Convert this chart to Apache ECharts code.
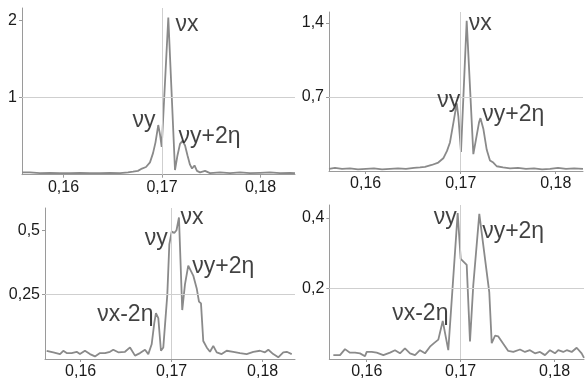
<!DOCTYPE html>
<html><head><meta charset="utf-8">
<script src="https://cdn.jsdelivr.net/npm/echarts@6/dist/echarts.min.js"></script>
<style>html,body{margin:0;padding:0;background:#fff}#c{width:587px;height:380px}</style>
</head><body><div id="c"></div>
<script>
// Panel 1 (top-left)
const p1x=[0.15579,0.15660,0.15761,0.15863,0.15964,0.16066,0.16168,0.16269,0.16371,0.16472,0.16574,0.16655,0.16706,0.16756,0.16797,0.16838,0.16878,0.16909,0.16934,0.16962,0.16980,0.16997,0.17064,0.17132,0.17157,0.17183,0.17208,0.17234,0.17259,0.17284,0.17305,0.17330,0.17355,0.17386,0.17437,0.17487,0.17589,0.17690,0.17792,0.17893,0.17995,0.18096,0.18198,0.18299,0.18350];
const p1y=[0.03,0.03,0.02,0.025,0.02,0.02,0.025,0.02,0.02,0.025,0.02,0.03,0.04,0.05,0.08,0.10,0.16,0.28,0.42,0.645,0.52,0.36,2.04,0.06,0.25,0.40,0.44,0.38,0.25,0.13,0.08,0.12,0.05,0.03,0.05,0.02,0.03,0.02,0.03,0.02,0.025,0.03,0.02,0.025,0.02];
// Panel 2 (top-right)
const p2x=[0.15614,0.15677,0.15751,0.15835,0.15919,0.16003,0.16087,0.16172,0.16256,0.16340,0.16424,0.16508,0.16572,0.16624,0.16695,0.16764,0.16817,0.16856,0.16887,0.16922,0.16958,0.16975,0.17003,0.17063,0.17133,0.17161,0.17193,0.17208,0.17238,0.17274,0.17308,0.17343,0.17379,0.17445,0.17519,0.17603,0.17687,0.17772,0.17856,0.17940,0.18024,0.18108,0.18193,0.18287];
const p2y=[0.02,0.03,0.02,0.025,0.015,0.02,0.025,0.015,0.02,0.025,0.02,0.03,0.035,0.04,0.057,0.08,0.12,0.19,0.27,0.45,0.64,0.52,0.18,1.42,0.16,0.30,0.46,0.50,0.40,0.20,0.10,0.08,0.045,0.035,0.025,0.03,0.02,0.025,0.015,0.02,0.03,0.02,0.025,0.02];
// Panel 3 (bottom-left)
const p3x=[0.15626,0.15699,0.15773,0.15809,0.15846,0.15901,0.15956,0.15992,0.16047,0.16102,0.16157,0.16212,0.16267,0.16322,0.16358,0.16413,0.16487,0.16542,0.16597,0.16652,0.16707,0.16743,0.16780,0.16809,0.16827,0.16853,0.16882,0.16908,0.16952,0.16974,0.17000,0.17029,0.17053,0.17080,0.17116,0.17146,0.17182,0.17237,0.17275,0.17300,0.17322,0.17347,0.17385,0.17421,0.17457,0.17495,0.17549,0.17604,0.17677,0.17751,0.17824,0.17897,0.17970,0.18025,0.18062,0.18116,0.18171,0.18226,0.18264,0.18319];
const p3y=[0.032,0.026,0.019,0.032,0.023,0.023,0.028,0.019,0.032,0.019,0.010,0.023,0.023,0.028,0.036,0.026,0.028,0.045,0.013,0.023,0.036,0.019,0.057,0.14,0.178,0.159,0.032,0.045,0.25,0.445,0.495,0.49,0.50,0.55,0.19,0.29,0.363,0.324,0.274,0.223,0.216,0.07,0.045,0.028,0.051,0.026,0.019,0.032,0.028,0.023,0.019,0.028,0.032,0.026,0.036,0.019,0.0065,0.026,0.028,0.019];
// Panel 4 (bottom-right)
const p4x=[0.15645,0.15716,0.15769,0.15822,0.15876,0.15929,0.15982,0.16000,0.16053,0.16106,0.16177,0.16248,0.16301,0.16354,0.16407,0.16461,0.16514,0.16567,0.16620,0.16673,0.16716,0.16762,0.16809,0.16868,0.16968,0.17000,0.17064,0.17099,0.17134,0.17198,0.17304,0.17330,0.17365,0.17400,0.17453,0.17506,0.17560,0.17631,0.17684,0.17737,0.17790,0.17844,0.17897,0.17950,0.18003,0.18038,0.18091,0.18128,0.18181,0.18234,0.18287,0.18312];
const p4y=[0.011,0.011,0.028,0.018,0.018,0.016,0.008,0.02,0.02,0.018,0.011,0.018,0.025,0.016,0.03,0.016,0.011,0.025,0.016,0.035,0.045,0.055,0.108,0.025,0.414,0.284,0.267,0.05,0.21,0.412,0.19,0.045,0.066,0.064,0.043,0.023,0.02,0.027,0.02,0.025,0.016,0.02,0.011,0.025,0.016,0.025,0.02,0.025,0.02,0.032,0.016,0.003];

const xTicks=[0.16,0.17,0.18];
const yTicks1=[1,2], yTicks2=[0.7,1.4], yTicks3=[0.25,0.5], yTicks4=[0.2,0.4];
const vLine=0.17;

// annotation labels: [text, x, y] in data units
const ann1=[['νx',0.17132,1.95],['νy',0.16695,0.697],['νy+2η',0.17162,0.49]];
const ann2=[['νx',0.1708,1.39],['νy',0.16747,0.662],['νy+2η',0.17221,0.53]];
const ann3=[['νx',0.17091,0.55],['νy',0.16699,0.468],['νy+2η',0.1722,0.36],['νx-2η',0.16176,0.174]];
const ann4=[['νy',0.16709,0.402],['νy+2η',0.17223,0.36],['νx-2η',0.16266,0.129]];

const panels=[
  {xs:p1x,ys:p1y,yt:yTicks1,ann:ann1,grid:{left:22,top:8,width:273,height:166.7},xr:[0.15579,0.1835],yr:[0,2.165]},
  {xs:p2x,ys:p2y,yt:yTicks2,ann:ann2,grid:{left:329,top:12,width:254,height:159},xr:[0.15614,0.18287],yr:[0,1.504]},
  {xs:p3x,ys:p3y,yt:yTicks3,ann:ann3,grid:{left:45,top:208,width:250,height:153.7},xr:[0.15608,0.18355],yr:[0,0.5866]},
  {xs:p4x,ys:p4y,yt:yTicks4,ann:ann4,grid:{left:329.3,top:205,width:254.7,height:157.3},xr:[0.15602,0.18312],yr:[0,0.437]}
];
const fmt=v=>String(+(+v).toFixed(3)).replace('.',',');
const FONT='Liberation Sans';
const axisCommon={
  axisLine:{show:true,onZero:false,lineStyle:{color:'#9a9a9a',width:1}},
  splitLine:{show:false}
};
const option={animation:false,backgroundColor:'#fff',grid:[],xAxis:[],yAxis:[],series:[]};
panels.forEach((p,i)=>{
  option.grid.push(p.grid);
  option.xAxis.push(Object.assign({type:'value',gridIndex:i,min:p.xr[0],max:p.xr[1],
    axisTick:{show:true,length:3,customValues:xTicks,lineStyle:{color:'#9a9a9a'}},
    axisLabel:{customValues:xTicks,formatter:fmt,fontSize:16,color:'#1a1a1a',fontFamily:FONT,margin:5}},axisCommon));
  option.yAxis.push(Object.assign({type:'value',gridIndex:i,min:p.yr[0],max:p.yr[1],
    axisTick:{show:true,length:3,customValues:p.yt,lineStyle:{color:'#9a9a9a'}},
    axisLabel:{customValues:p.yt,formatter:fmt,fontSize:16,color:'#1a1a1a',fontFamily:FONT,margin:5}},axisCommon));
  option.series.push({type:'line',xAxisIndex:i,yAxisIndex:i,showSymbol:false,symbol:'none',
    data:p.xs.map((x,k)=>[x,p.ys[k]]),
    lineStyle:{color:'#8a8a8a',width:1.8},z:3,
    markLine:{silent:true,symbol:'none',label:{show:false},animation:false,
      lineStyle:{color:'#cfcfcf',width:1,type:'solid'},
      data:[{xAxis:vLine},{yAxis:p.yt[0]}]}});
  option.series.push({type:'scatter',xAxisIndex:i,yAxisIndex:i,symbolSize:1,itemStyle:{color:'rgba(0,0,0,0)'},z:5,silent:true,
    data:p.ann.map(a=>({name:a[0],value:[a[1],a[2]]})),
    labelLayout:{hideOverlap:false},
    label:{show:true,position:'right',distance:0,align:'left',verticalAlign:'middle',formatter:'{b}',
      fontSize:23,color:'#111',fontFamily:FONT}});
});
const chart=echarts.init(document.getElementById('c'),null,{renderer:'canvas'});
chart.setOption(option);
</script></body></html>
